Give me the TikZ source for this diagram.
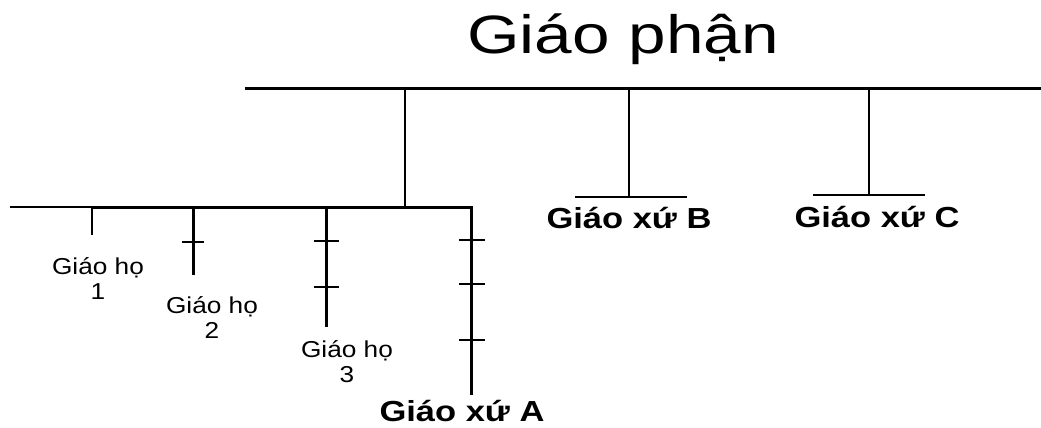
\documentclass[tikz,border=0pt]{standalone}
\usepackage{fontspec}
\setmainfont{Liberation Sans}
\newcommand{\titlefont}{\fontsize{54}{62}\selectfont}
\newcommand{\boldlab}{\fontsize{29}{33}\selectfont\bfseries}
\newcommand{\smalllab}{\fontsize{23}{25}\selectfont}
\newcommand{\hs}[2]{\scalebox{#1}[1]{#2}}
\begin{document}
\begin{tikzpicture}[x=1pt,y=-1pt,
  thickln/.style={line width=3pt},
  midln/.style={line width=2.2pt},
  thinln/.style={line width=1.5pt},
  tickln/.style={line width=1.3pt},
  lab/.style={inner sep=0pt,outer sep=0pt,anchor=base}]
\useasboundingbox (0,0) rectangle (1041,428);
% title
\node[lab] (gp) at (623,54) {\titlefont\hs{1.25}{Giáo phận}};
% top bus
\coordinate (busL) at (245,88);
\coordinate (busR) at (1041,88);
\coordinate (jA) at (405,88);
\coordinate (jB) at (629,88);
\coordinate (jC) at (869,88);
\draw[thickln] (busL) -- (busR);
% parish B
\coordinate (bB) at (629,197);
\coordinate (bBl) at (575,197);
\coordinate (bBr) at (687,197);
\draw[midln] (jB) -- (bB);
\draw[thinln] (bBl) -- (bBr);
\node[lab] (xB) at (629,228) {\boldlab\hs{1.19}{Giáo xứ B}};
% parish C
\coordinate (bC) at (869,195);
\coordinate (bCl) at (813,195);
\coordinate (bCr) at (925,195);
\draw[midln] (jC) -- (bC);
\draw[thinln] (bCl) -- (bCr);
\node[lab] (xC) at (877,227) {\boldlab\hs{1.19}{Giáo xứ C}};
% parish A bus
\coordinate (aJ) at (405,207);
\coordinate (aL) at (10,207);
\coordinate (h1) at (92,207);
\coordinate (h2) at (193,207);
\coordinate (h3) at (326,207);
\coordinate (aEnd) at (471,395);
\draw[midln] (jA) -- (aJ);
\draw[thinln] (aL) -- (h1);
\draw[thickln,line join=miter] (h1) -| (aEnd);
% sub-parish 1
\coordinate (h1e) at (92,235);
\draw[midln] (h1) -- (h1e);
\node[lab] (gh1) at (98,274) {\smalllab\hs{1.14}{\begin{tabular}[t]{@{}c@{}}Giáo họ\\1\end{tabular}}};
% sub-parish 2
\coordinate (h2e) at (193,275);
\draw[thickln] (h2) -- (h2e);
\draw[tickln] (182,242) -- (204,242);
\node[lab] (gh2) at (212,313) {\smalllab\hs{1.14}{\begin{tabular}[t]{@{}c@{}}Giáo họ\\2\end{tabular}}};
% sub-parish 3
\coordinate (h3e) at (326,327);
\draw[thickln] (h3) -- (h3e);
\draw[tickln] (314,241) -- (339,241);
\draw[tickln] (314,287) -- (339,287);
\node[lab] (gh3) at (347,357) {\smalllab\hs{1.14}{\begin{tabular}[t]{@{}c@{}}Giáo họ\\3\end{tabular}}};
% parish A ticks and label
\draw[tickln] (459,240) -- (485,240);
\draw[tickln] (459,284) -- (485,284);
\draw[tickln] (459,340) -- (485,340);
\node[lab] (xA) at (462,421) {\boldlab\hs{1.19}{Giáo xứ A}};
\end{tikzpicture}
\end{document}
